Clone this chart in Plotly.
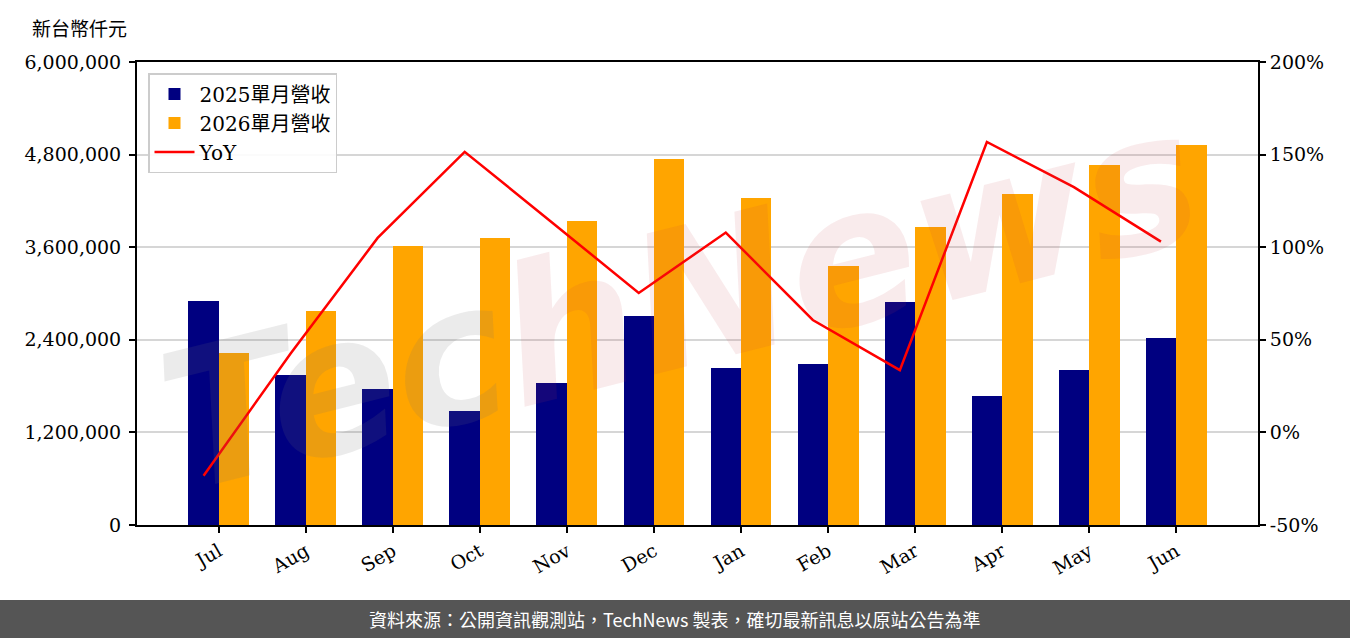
import plotly.graph_objects as go

months = ["Jul", "Aug", "Sep", "Oct", "Nov", "Dec", "Jan", "Feb", "Mar", "Apr", "May", "Jun"]
rev_2025 = [2903000, 1944000, 1762000, 1477000, 1840000, 2708000, 2034000, 2086000, 2890000, 1672000, 2009000, 2427000]
rev_2026 = [2229000, 2773000, 3615000, 3719000, 3939000, 4743000, 4237000, 3356000, 3862000, 4293000, 4669000, 4924000]
yoy = [-23.4, 42.6, 105.0, 151.5, 113.5, 75.3, 107.9, 60.7, 33.6, 156.8, 132.4, 103.0]
left_ticks = [0, 1200000, 2400000, 3600000, 4800000, 6000000]
right_ticks = [-50, 0, 50, 100, 150, 200]

W, H = 1350, 638
L, R, T, B = 137, 1258, 62, 525
pw, ph = R - L, B - T

def px(x):
    return (x - L) / pw

def py(y):
    return (B - y) / ph

idx = list(range(len(months)))
bw = 0.35
serif = "DejaVu Serif, Noto Sans CJK TC"

fig = go.Figure()
fig.add_trace(go.Bar(x=idx, y=rev_2025, width=bw, offset=-bw, marker=dict(color="#000080", line=dict(width=0)),
                     name="2025單月營收"))
fig.add_trace(go.Bar(x=idx, y=rev_2026, width=bw, offset=0, marker=dict(color="#FFA500", line=dict(width=0)),
                     name="2026單月營收"))
fig.add_trace(go.Scatter(x=[i - bw / 2 for i in idx], y=yoy, mode="lines", line=dict(color="#FF0000", width=2.5),
                         name="YoY", yaxis="y2"))

fig.update_layout(
    width=W, height=H,
    margin=dict(l=L, r=W - R, t=T, b=H - B),
    paper_bgcolor="white", plot_bgcolor="white",
    barmode="overlay",
    bargap=0,
    font=dict(family=serif, size=19, color="black"),
    showlegend=True,
    legend=dict(x=px(148), y=py(73), xanchor="left", yanchor="top",
                bgcolor="rgba(255,255,255,0.9)", bordercolor="#cccccc", borderwidth=1.5,
                font=dict(family=serif, size=20), itemwidth=40, tracegroupgap=2),
    xaxis=dict(range=[-0.94, 11.94], tickmode="array", tickvals=idx, ticktext=months, tickangle=-30,
               showline=True, linecolor="black", linewidth=2, mirror=True, ticks="outside", ticklen=6,
               tickwidth=1.5, tickcolor="black", showgrid=False, zeroline=False,
               tickfont=dict(family=serif, size=19)),
    yaxis=dict(range=[0, 6000000], tickmode="array", tickvals=left_ticks,
               ticktext=[f"{v:,}" for v in left_ticks],
               showline=True, linecolor="black", linewidth=2, ticks="outside", ticklen=6, tickwidth=1.5,
               tickcolor="black", showgrid=True, gridcolor="#d6d6d6", gridwidth=1.5, zeroline=False,
               ticklabelstandoff=4,
               tickfont=dict(family=serif, size=19)),
    yaxis2=dict(range=[-50, 200], overlaying="y", side="right", tickmode="array", tickvals=right_ticks,
                ticktext=[f"{v}%" for v in right_ticks],
                showline=True, linecolor="black", linewidth=2, ticks="outside", ticklen=6, tickwidth=1.5,
                tickcolor="black", showgrid=False, zeroline=False,
                tickfont=dict(family=serif, size=19)),
)

# footer bar
fig.add_shape(type="rect", xref="paper", yref="paper", x0=px(0), x1=px(W), y0=py(638), y1=py(600),
              fillcolor="#555555", line=dict(width=0), layer="above")
fig.add_annotation(xref="paper", yref="paper", x=px(W / 2), y=py(619), xanchor="center", yanchor="middle",
                   showarrow=False,
                   text="資料來源：公開資訊觀測站，TechNews 製表，確切最新訊息以原站公告為準",
                   font=dict(family="Noto Sans CJK TC", size=18, color="white"))

# unit title
fig.add_annotation(xref="paper", yref="paper", x=px(30), y=py(27), xanchor="left", yanchor="middle",
                   showarrow=False,
                   text="新台幣仟元", font=dict(family="Noto Sans CJK TC", size=19, color="black"))

# watermark
fig.add_annotation(xref="paper", yref="paper", x=px(680), y=py(300), showarrow=False, textangle=-14,
                   xanchor="center", yanchor="middle",
                   text="<i><b><span style='color:rgba(110,110,110,0.14)'>Tec</span>"
                        "<span style='color:rgba(200,60,70,0.1)'>hNews</span></b></i>",
                   font=dict(family="DejaVu Sans", size=190))

fig.write_html("out.html")
